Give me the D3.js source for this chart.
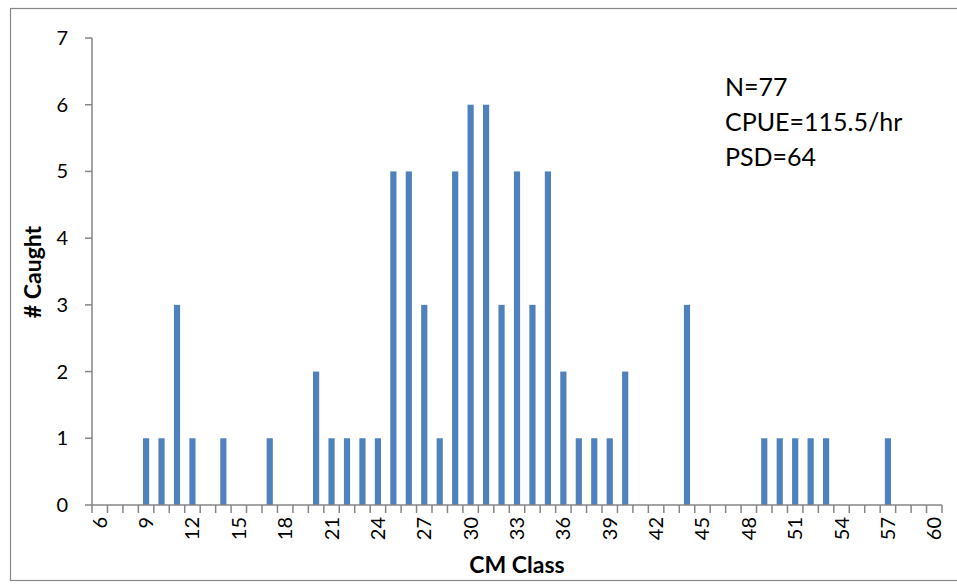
<!DOCTYPE html>
<html><head><meta charset="utf-8">
<script src="https://cdn.jsdelivr.net/npm/d3@7"></script>
<style>body{margin:0;background:#fff}svg{display:block}</style>
</head><body>
<svg id="c" width="957" height="584"></svg>
<script>
const categories = d3.range(6, 61);
const classes = [9,10,11,12,14,17,20,21,22,23,24,25,26,27,28,29,30,31,32,33,34,35,36,37,38,39,40,44,49,50,51,52,53,57];
const counts  = [1,1,3,1,1,1,2,1,1,1,1,5,5,3,1,5,6,6,3,5,3,5,2,1,1,1,2,3,1,1,1,1,1,1];
const yTicks = [0,1,2,3,4,5,6,7];
const xTickLabels = d3.range(6, 61, 3);
const notes = ["N=77", "CPUE=115.5/hr", "PSD=64"];

const data = categories.map(c => { const i = classes.indexOf(c); return {c, v: i >= 0 ? counts[i] : 0}; });
const font = "Lato, 'Open Sans', sans-serif";
const svg = d3.select("#c");
svg.append("rect").attr("x",10.5).attr("y",8.5).attr("width",960).attr("height",572)
  .attr("fill","#fff").attr("stroke","#888").attr("stroke-width",1.2);

const L = 92, R = 942, T = 38, B = 505;
const x = d3.scaleBand().domain(categories).range([L, R]).paddingInner(0.6).paddingOuter(0.3);
const xb = d3.scaleBand().domain(categories).range([L, R]);
const y = d3.scaleLinear().domain([0, 7]).range([B, T]);

svg.append("g").selectAll("rect").data(data.filter(d => d.v > 0)).join("rect")
  .attr("x", d => x(d.c)).attr("width", x.bandwidth())
  .attr("y", d => y(d.v)).attr("height", d => y(0) - y(d.v))
  .attr("fill", "#4f81bd");

const ax = "#868686";
// y axis
const gy = svg.append("g");
gy.append("line").attr("x1",L).attr("x2",L).attr("y1",T).attr("y2",B).attr("stroke",ax).attr("stroke-width",1.5);
gy.selectAll("line.t").data(yTicks).join("line").attr("class","t")
  .attr("x1",L-7).attr("x2",L).attr("y1",d=>y(d)).attr("y2",d=>y(d)).attr("stroke",ax).attr("stroke-width",1.5);
gy.selectAll("text").data(yTicks).join("text")
  .attr("x",L-24).attr("y",d=>y(d)).attr("dy","0.35em").attr("text-anchor","end")
  .attr("font-family",font).attr("font-size",20).attr("fill","#000").text(d=>d);

// x axis
const gx = svg.append("g");
gx.append("line").attr("x1",L).attr("x2",R).attr("y1",B).attr("y2",B).attr("stroke",ax).attr("stroke-width",1.5);
const bounds = categories.map(c => xb(c)).concat([R]);
gx.selectAll("line.t").data(bounds).join("line").attr("class","t")
  .attr("x1",d=>d).attr("x2",d=>d).attr("y1",B).attr("y2",B+8).attr("stroke",ax).attr("stroke-width",1.5);
gx.selectAll("text").data(xTickLabels).join("text")
  .attr("transform", d => `translate(${xb(d)+xb.bandwidth()/2},${B+12}) rotate(-90)`)
  .attr("dy","0.35em").attr("text-anchor","end")
  .attr("font-family",font).attr("font-size",20).attr("fill","#000").text(d=>d);

svg.append("text").attr("x",517).attr("y",573).attr("text-anchor","middle")
  .attr("font-family",font).attr("font-weight","bold").attr("font-size",23).text("CM Class");
svg.append("text").attr("transform","translate(41,272) rotate(-90)").attr("text-anchor","middle")
  .attr("font-family",font).attr("font-weight","bold").attr("font-size",23).text("# Caught");

svg.append("g").selectAll("text").data(notes).join("text")
  .attr("x",725).attr("y",(d,i)=>96+i*35)
  .attr("font-family",font).attr("font-size",25).text(d=>d);
</script>
</body></html>
